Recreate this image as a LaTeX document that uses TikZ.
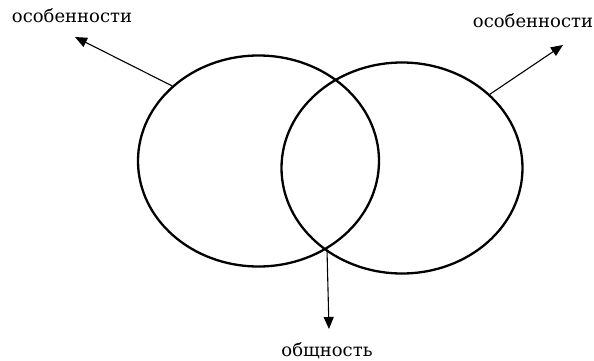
\documentclass[tikz,border=0pt]{standalone}
\usepackage{fontspec}
\setmainfont{DejaVu Serif}
\usetikzlibrary{shapes.geometric,arrows.meta}
\begin{document}
\begin{tikzpicture}[x=1pt,y=-1pt,
  circ/.style={draw, ellipse, line width=2.3pt, inner sep=0pt, minimum width=241pt, minimum height=211pt},
  arr/.style={line width=1.1pt, -{Triangle[length=12pt,width=10pt]}},
  lbl/.style={font=\fontsize{18}{21}\selectfont, inner sep=0pt, anchor=base}]
\useasboundingbox (0,0) rectangle (594,361);
\node[circ] (L) at (258.5,161) {};
\node[circ] (R) at (402,168) {};
\coordinate (X) at (327,250);
\coordinate (tl) at (75,37);
\coordinate (tr) at (563,45);
\coordinate (tb) at (329,329);
\node[lbl] (ls) at (72,23) {особенности};
\node[lbl] (rs) at (533,28) {особенности};
\node[lbl] (bs) at (327,356) {общность};
\draw[arr] (L.139) -- (tl);
\draw[arr] (R.40) -- (tr);
\draw[arr] (X) -- (tb);
\end{tikzpicture}
\end{document}
